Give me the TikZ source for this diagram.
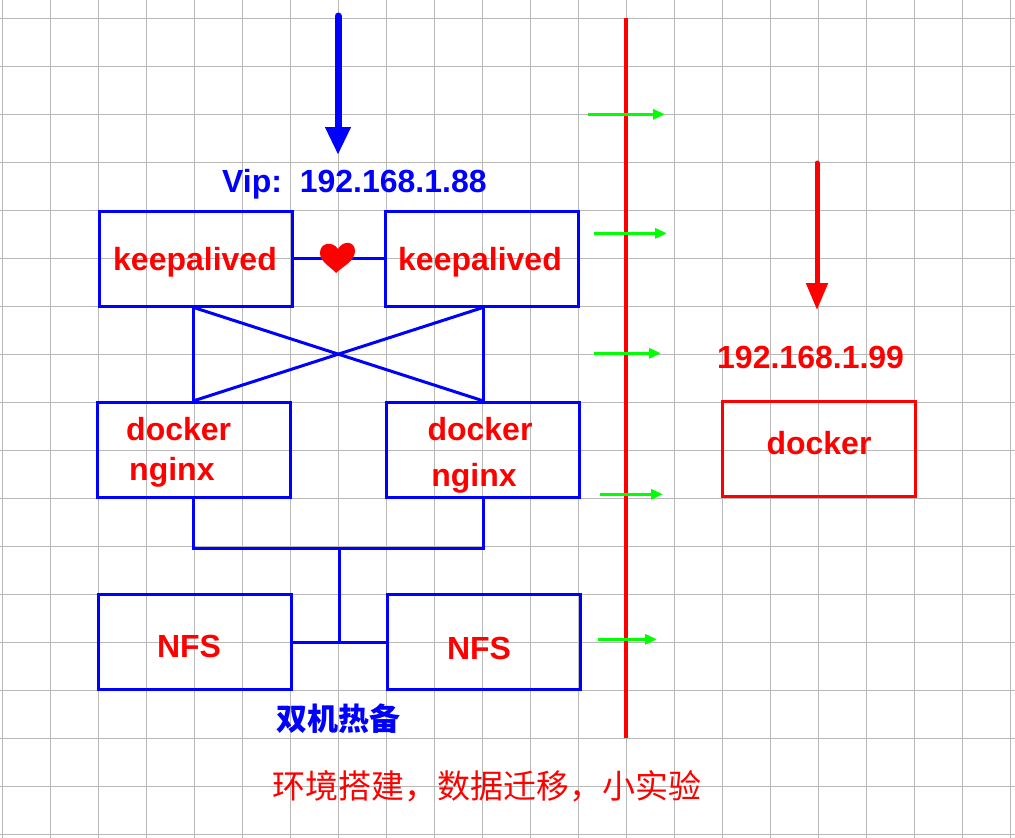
\documentclass[tikz,border=0pt]{standalone}
\usepackage{fontspec}
\setmainfont{Liberation Sans}
\newfontfamily\cjk{Noto Sans CJK SC}
\usetikzlibrary{arrows.meta}
\definecolor{gridgray}{RGB}{185,185,185}
\definecolor{netblue}{RGB}{0,0,255}
\definecolor{netred}{RGB}{255,0,0}
\definecolor{netgreen}{RGB}{0,255,0}

\begin{document}
\begin{tikzpicture}[x=1pt,y=-1pt]
\tikzstyle{every node}=[font=\fontsize{32}{38}\selectfont\bfseries, inner sep=0pt]
\tikzstyle{gridline}=[gridgray, line width=1.3pt]
\tikzstyle{box}=[draw=netblue, line width=3pt, minimum width=193pt, minimum height=95pt]
\tikzstyle{lbl}=[text=netred]
\tikzstyle{link}=[netblue, line width=3pt]
\tikzstyle{flow}=[netgreen, line width=3pt, -{Triangle[length=12pt,width=10pt]}]
\useasboundingbox (0,0) rectangle (1015,838);
\fill[white] (0,0) rectangle (1015,838);
% grid
\foreach \i in {0,...,21} \draw[gridline] ({2.3+48*\i},0) -- ({2.3+48*\i},838);
\foreach \j in {0,...,17} \draw[gridline] (0,{18.3+48*\j}) -- (1015,{18.3+48*\j});
% boxes
\node[box] (kaL) at (195.5,258.5) {};
\node[box] (kaR) at (482,258.5) {};
\node[box] (dnL) at (193.7,449.8) {};
\node[box] (dnR) at (483,449.8) {};
\node[box] (nfsL) at (194.5,642.3) {};
\node[box] (nfsR) at (483.7,642.3) {};
\node[box, draw=netred] (dk) at (818.5,449) {};
% texts
\node[lbl, anchor=base] (tKaL) at (195,270) {keepalived};
\node[lbl, anchor=base] (tKaR) at (480,270) {keepalived};
\node[lbl, anchor=base west] (tDocL) at (126,440) {docker};
\node[lbl, anchor=base west] (tNgxL) at (129,480) {nginx};
\node[lbl, anchor=base] (tDocR) at (480,440) {docker};
\node[lbl, anchor=base] (tNgxR) at (474,486) {nginx};
\node[lbl, anchor=base] (tNfsL) at (189,657) {NFS};
\node[lbl, anchor=base] (tNfsR) at (479,659) {NFS};
\node[lbl, anchor=base] (tDk) at (819,454) {docker};
\node[text=netblue, anchor=base west] (vip) at (222,192) {Vip:\ \ 192.168.1.88};
\node[lbl, anchor=base west] (ip99) at (717,368) {192.168.1.99};
\node[font=\cjk\fontsize{31}{36}\selectfont\bfseries, text=netblue] (hot) at (338,719) {双机热备};
\node[font=\cjk\fontsize{33}{38}\selectfont, text=netred, anchor=west] (note) at (272,786) {环境搭建，数据迁移，小实验};
% links
\draw[link] (kaL.east) -- (kaR.west);
\fill[netred, shift={(338,258)}] (0,-9) .. controls (-5,-17) and (-18,-16) .. (-18,-5) .. controls (-18,4) and (-7,9) .. (-2,15) .. controls (4,9) and (17,3) .. (17,-7) .. controls (17,-17) and (5,-18) .. (0,-9) -- cycle;
\coordinate (xTL) at (dnL.north |- kaL.south);
\coordinate (xTR) at (dnR.north |- kaR.south);
\draw[link] (xTL) -- (dnL.north);
\draw[link] (xTR) -- (dnR.north);
\draw[link] (xTL) -- (dnR.north);
\draw[link] (xTR) -- (dnL.north);
\coordinate (bus) at (339,548);
\draw[link] (dnL.south) |- (bus) -| (dnR.south);
\draw[link] (bus) -- (bus |- nfsL.east);
\draw[link] (nfsL.east) -- (nfsR.west);
% arrows
\coordinate (vipIn) at (338,16);
\coordinate (vipTip) at (338,155);
\draw[netblue, line width=7pt, line cap=round, -{Triangle[length=28pt,width=24pt]}] (vipIn) -- (vipTip);
\coordinate (ipIn) at (817,163);
\coordinate (ipTip) at (817,310);
\draw[netred, line width=5pt, line cap=round, -{Triangle[length=27pt,width=21pt]}] (ipIn) -- (ipTip);
\coordinate (divTop) at (626,18.3);
\coordinate (divBot) at (626,738);
\draw[netred, line width=4pt] (divTop) -- (divBot);
\foreach \n/\y/\a/\b in {1/114.3/588/665, 2/233.3/594/667, 3/353.3/594/661, 4/494.3/600/663, 5/639.3/598/657} {
  \coordinate (gs\n) at (\a,\y);
  \coordinate (ge\n) at (\b,\y);
  \draw[flow] (gs\n) -- (ge\n);
}
\end{tikzpicture}
\end{document}
